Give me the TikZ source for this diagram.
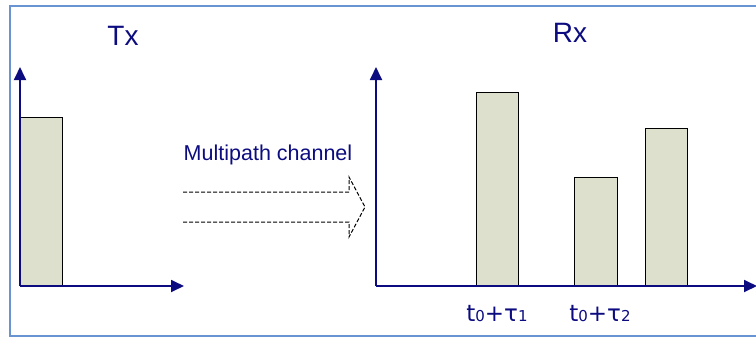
\documentclass[tikz,border=0pt]{standalone}
\usepackage{fontspec}
\setmainfont{Liberation Sans}
\newfontfamily\lblfont{DejaVu Sans}
\usetikzlibrary{arrows.meta}
\definecolor{navy}{RGB}{12,12,128}
\definecolor{framec}{RGB}{105,148,210}
\definecolor{barfill}{RGB}{221,224,204}
\tikzset{
  axis/.style={draw=navy,line width=1.8pt,-{Triangle[width=12pt,length=13pt]}},
  bar/.style={draw=black,line width=0.9pt,fill=barfill},
  title/.style={text=navy,font=\fontsize{28}{30}\selectfont,inner sep=0pt},
  tick/.style={text=navy,font=\lblfont\fontsize{23}{25}\selectfont,inner sep=0pt,anchor=base},
}
\newcommand{\smd}[1]{{\fontsize{15}{16}\selectfont #1}}
\begin{document}
\begin{tikzpicture}[x=1pt,y=-1pt]
\useasboundingbox (0,0) rectangle (756,338);
% frame
\draw[framec,line width=2pt] (10,6) rectangle (780,336);
% Tx axes
\coordinate (txo) at (20,286);
\coordinate (txy) at (20,67);
\coordinate (txx) at (184,286);
\draw[bar] (20,117) rectangle (62,286);
\draw[axis] (txo) -- (txy);
\draw[axis] (txo) -- (txx);
\node[title] (tx) at (123,36) {Tx};
% Rx axes
\coordinate (rxo) at (376,286);
\coordinate (rxy) at (376,67);
\coordinate (rxx) at (757,286);
\draw[bar] (476,92) rectangle (518,286);
\draw[bar] (574,177) rectangle (617,286);
\draw[bar] (645,128) rectangle (687,286);
\draw[axis] (rxo) -- (rxy);
\draw[axis] (rxo) -- (rxx);
\node[title] (rx) at (570,33) {Rx};
\node[tick] (l1) at (497,321) {t\smd{0}+τ\smd{1}};
\node[tick] (l2) at (600,321) {t\smd{0}+τ\smd{2}};
% channel
\node[text=navy,font=\fontsize{21.5}{23}\selectfont,inner sep=0pt] (mc) at (268,155) {Multipath channel};
\draw[black,line width=1pt,dash pattern=on 4pt off 2pt]
  (183,192) -- (349,192) -- (349,177) -- (365,207) -- (349,237) -- (349,222) -- (183,222);
\end{tikzpicture}
\end{document}
